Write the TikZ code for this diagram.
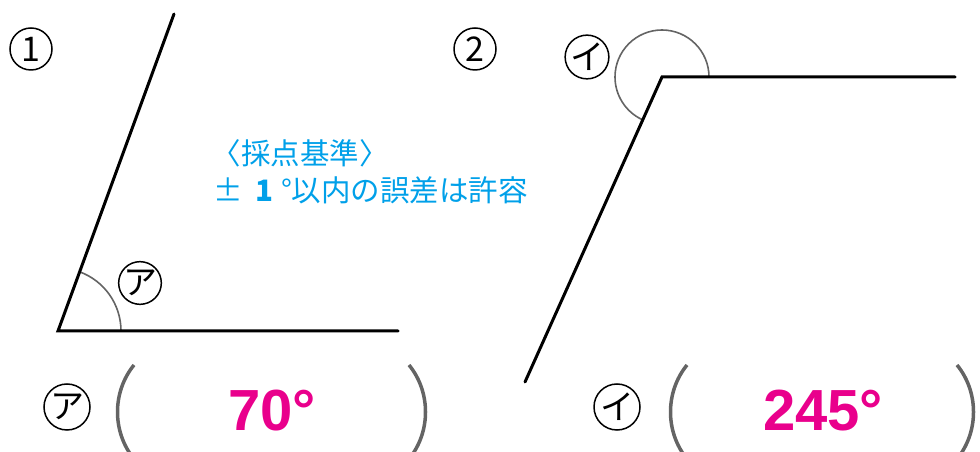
\documentclass[tikz,border=0pt]{standalone}
\usepackage{fontspec}
\setmainfont{Liberation Sans}
\newfontfamily\jpfont{Noto Sans CJK JP}
\usepackage{tikz}
\usetikzlibrary{positioning}
\definecolor{kijun}{RGB}{0,160,233}
\definecolor{kotae}{RGB}{233,0,140}
\definecolor{kakko}{RGB}{100,100,100}
\tikzset{ray/.style = {line width=3pt, line cap=round}}
\tikzset{kakudo/.style = {line width=1.6pt, draw=kakko}}
\tikzset{maru/.style = {circle, draw, line width=1.5pt, minimum size=42pt, inner sep=0pt, font=\jpfont\fontsize{34}{34}\selectfont}}
\tikzset{paren/.style = {line width=3.5pt, draw=kakko}}
\tikzset{ans/.style = {text=kotae, font=\bfseries\fontsize{58}{58}\selectfont}}
\tikzset{kijuntext/.style = {anchor=west, text=kijun, font=\jpfont\fontsize{29.5}{29.5}\selectfont}}

\begin{document}
\begin{tikzpicture}[x=1pt, y=1pt]
\useasboundingbox (0,0) rectangle (980,452);
% figure 1
\coordinate (A) at (58,121);
\coordinate (Ah) at (398,121);
\coordinate (At) at (174,438);
\draw [kakudo] (121,121) arc (0:70:63);
\draw [ray] (At) -- (A) -- (Ah);
\node [maru] (n1) at (31,403) {1};
\node [maru] (ka) at (140,169) {ア};
% figure 2
\coordinate (B) at (662,375);
\coordinate (Bh) at (955,375);
\coordinate (Bt) at (525,70);
\draw [kakudo] (709,375) arc (0:245:47);
\draw [ray] (Bt) -- (B) -- (Bh);
\node [maru] (n2) at (475,403) {2};
\node [maru] (ki) at (587,395) {イ};
% criteria
\node [kijuntext] (kj) at (208,299) {〈採点基準〉};
\node [kijuntext] (gs) at (210,262) {±\hspace{12pt}{\bfseries 1}\hspace{8pt}°以内の誤差は許容};
% answers
\node [maru, minimum size=46pt] (aa) at (67,45) {ア};
\draw [paren] (134,87) .. controls (112,60) and (112,20) .. (134,-7);
\node [ans] (v1) at (272,41) {70°};
\draw [paren] (409,87) .. controls (431,60) and (431,20) .. (409,-7);
\node [maru, minimum size=46pt] (ai) at (617,45) {イ};
\draw [paren] (687,87) .. controls (665,60) and (665,20) .. (687,-7);
\node [ans] (v2) at (823,41) {245°};
\draw [paren] (957,87) .. controls (979,60) and (979,20) .. (957,-7);
\end{tikzpicture}
\end{document}
